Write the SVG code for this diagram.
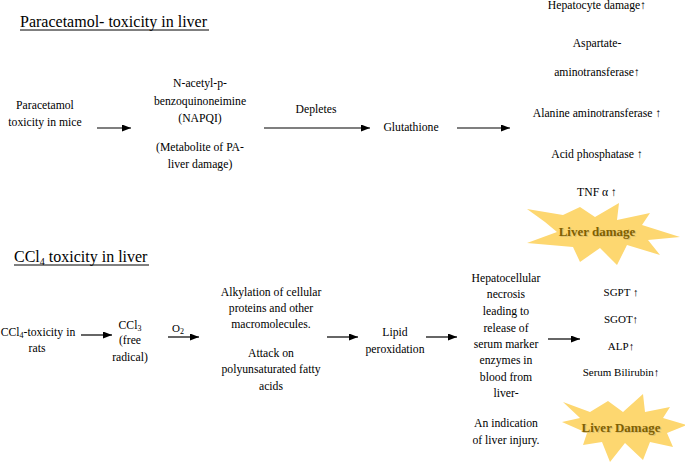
<svg xmlns="http://www.w3.org/2000/svg" width="685" height="462" viewBox="0 0 685 462">
<defs>
<style>
text{font-family:"Liberation Serif","Times New Roman",serif;fill:#000;}
.t{font-size:16px;}
.b{font-size:11.7px;text-anchor:middle;}
.s{font-size:11px;text-anchor:middle;}
.burst{fill:#fdd770;stroke:none;}
.bt{font-size:13px;font-weight:bold;text-anchor:middle;fill:#7f6000;}
.bs{font-size:13px;font-weight:bold;text-anchor:middle;fill:#c9b57a;opacity:0.6;}
.ln{stroke:#000;stroke-width:1.2;fill:none;}
</style>
<marker id="ah" markerWidth="10" markerHeight="8" refX="9" refY="3.5" orient="auto" markerUnits="userSpaceOnUse">
<path d="M0,0 L9,3.5 L0,7 z" fill="#000"/>
</marker>
</defs>
<rect width="685" height="462" fill="#fff"/>

<g id="title1">
<text class="t" x="20" y="27">Paracetamol- toxicity in liver</text>
<line x1="20" y1="30" x2="209" y2="30" stroke="#000" stroke-width="1"/>
</g>
<g id="title2">
<text class="t" x="14" y="262">CCl<tspan font-size="10" dy="3">4</tspan><tspan dy="-3"> toxicity in liver</tspan></text>
<line x1="14" y1="265" x2="149" y2="265" stroke="#000" stroke-width="1"/>
</g>

<g id="connectors">
<line class="ln" x1="97" y1="128" x2="131" y2="128" marker-end="url(#ah)"/>
<line class="ln" x1="264" y1="128" x2="370" y2="128" marker-end="url(#ah)"/>
<line class="ln" x1="457" y1="128" x2="510" y2="128" marker-end="url(#ah)"/>
<line class="ln" x1="81" y1="335" x2="112" y2="335" marker-end="url(#ah)"/>
<line class="ln" x1="168" y1="337" x2="199" y2="337" marker-end="url(#ah)"/>
<line class="ln" x1="327" y1="337" x2="358" y2="337" marker-end="url(#ah)"/>
<line class="ln" x1="426" y1="337" x2="457" y2="337" marker-end="url(#ah)"/>
<line class="ln" x1="548" y1="339" x2="580" y2="339" marker-end="url(#ah)"/>
<text class="s" x="178" y="332">O<tspan font-size="8" dy="2">2</tspan></text>
<text class="b" x="316" y="113">Depletes</text>
</g>

<g id="paracetamol">
<text class="b" x="45" y="109">Paracetamol</text>
<text class="b" x="45" y="126">toxicity in mice</text>
</g>

<g id="napqi">
<text class="b" x="200" y="87">N-acetyl-p-</text>
<text class="b" x="200" y="105">benzoquinoneimine</text>
<text class="b" x="200" y="122">(NAPQI)</text>
<text class="b" x="200" y="151">(Metabolite of PA-</text>
<text class="b" x="200" y="168">liver damage)</text>
</g>

<g id="glutathione">
<text class="b" x="411" y="131">Glutathione</text>
</g>

<g id="markers1">
<text class="b" x="597" y="9">Hepatocyte damage↑</text>
<text class="b" x="597" y="47">Aspartate-</text>
<text class="b" x="597" y="76">aminotransferase↑</text>
<text class="b" x="597" y="117">Alanine aminotransferase ↑</text>
<text class="b" x="597" y="158">Acid phosphatase ↑</text>
<text class="b" x="597" y="196">TNF α ↑</text>
</g>

<g id="burst1">
<polygon class="burst" points="527,209 563,215 580,207 595,217 619,203 617,220 650,213 642,225 680,237 648,240 660,255 627,245 617,265 600,248 580,262 573,247 527,243 557,232 545,222"/>
<text class="bs" x="598" y="237">Liver damage</text>
<text class="bt" x="597" y="236">Liver damage</text>
</g>

<g id="ccl4">
<text class="b" x="38" y="336">CCl<tspan font-size="8" dy="2">4</tspan><tspan dy="-2">-toxicity in</tspan></text>
<text class="b" x="37" y="352">rats</text>
</g>

<g id="ccl3">
<text class="b" x="130" y="329">CCl<tspan font-size="8" dy="2">3</tspan></text>
<text class="b" x="130" y="344">(free</text>
<text class="b" x="130" y="361">radical)</text>
</g>

<g id="alkylation">
<text class="b" x="271" y="296">Alkylation of cellular</text>
<text class="b" x="271" y="312">proteins and other</text>
<text class="b" x="271" y="328">macromolecules.</text>
<text class="b" x="271" y="357">Attack on</text>
<text class="b" x="271" y="373">polyunsaturated fatty</text>
<text class="b" x="271" y="390">acids</text>
</g>

<g id="lipid">
<text class="b" x="395" y="336">Lipid</text>
<text class="b" x="395" y="353">peroxidation</text>
</g>

<g id="necrosis">
<text class="b" x="506" y="282">Hepatocellular</text>
<text class="b" x="506" y="298">necrosis</text>
<text class="b" x="506" y="315">leading to</text>
<text class="b" x="506" y="332">release of</text>
<text class="b" x="506" y="348">serum marker</text>
<text class="b" x="506" y="364">enzymes in</text>
<text class="b" x="506" y="381">blood from</text>
<text class="b" x="506" y="397">liver-</text>
<text class="b" x="506" y="427">An indication</text>
<text class="b" x="506" y="444">of liver injury.</text>
</g>

<g id="markers2">
<text class="s" x="621" y="296">SGPT ↑</text>
<text class="s" x="621" y="323">SGOT↑</text>
<text class="s" x="621" y="350">ALP↑</text>
<text class="s" x="621" y="376" font-size="10.5">Serum Bilirubin↑</text>
</g>

<g id="burst2">
<polygon class="burst" points="563,402 590,412 608,401 623,412 643,394 645,412 670,407 663,418 687,425 667,433 673,447 650,442 643,460 625,443 610,462 602,442 583,445 587,433 562,422 580,418"/>
<text class="bs" x="622" y="433">Liver Damage</text>
<text class="bt" x="621" y="432">Liver Damage</text>
</g>
</svg>
